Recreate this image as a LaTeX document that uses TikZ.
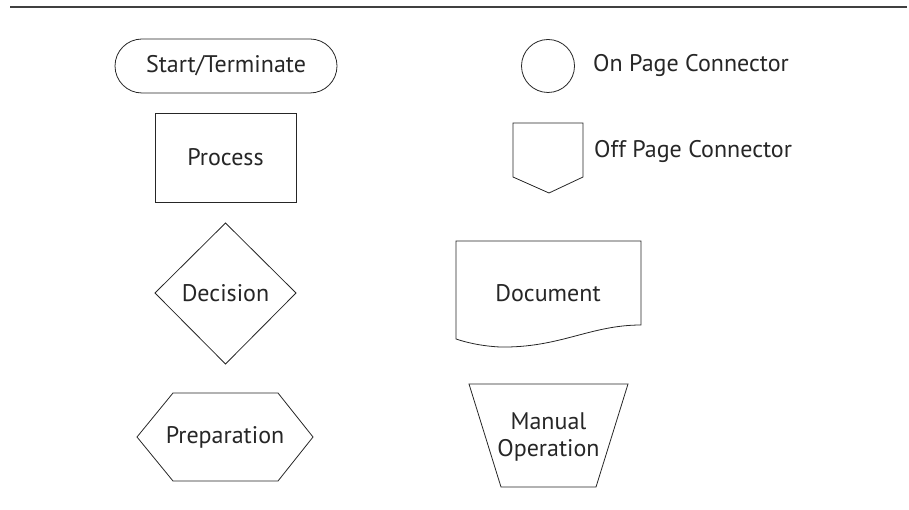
\documentclass[tikz,border=0pt]{standalone}
\usepackage{fontspec}
\setmainfont{PT Sans}

\tikzset{
  symbol/.style={draw=black!85, line width=0.8pt},
  label/.style={font=\fontsize{24}{27}\selectfont, text=black!85, inner sep=0pt},
}

\begin{document}
\begin{tikzpicture}[x=1pt, y=-1pt]
    \useasboundingbox (0,0) rectangle (909,510);
    \draw[black!75, line width=1.6pt] (10,7) -- (907,7);

    % left column
    \draw[symbol, rounded corners=27pt] (115,39) rectangle (337,93);
    \node[label] (start) at (226,66) {Start/Terminate};

    \draw[symbol] (155,113) rectangle (296,202);
    \node[label] (process) at (225.5,157.5) {Process};

    \draw[symbol] (225.5,223) -- (296,293) -- (225.5,364) -- (155,293) -- cycle;
    \node[label] (decision) at (225.5,293) {Decision};

    \draw[symbol] (137,437) -- (173,393) -- (278,393) -- (313,437) -- (278,481) -- (173,481) -- cycle;
    \node[label] (prep) at (225,437) {Preparation};

    % right column
    \draw[symbol] (548,66) circle (26.5);
    \node[label, anchor=west] (onpage) at (593,66) {On Page Connector};

    \draw[symbol] (513,123) -- (583,123) -- (583,177) -- (549,193) -- (513,177) -- cycle;
    \node[label, anchor=west] (offpage) at (594,152) {Off Page Connector};

    \draw[symbol] (456,241) -- (641,241) -- (641,325)
        .. controls (590,325) and (560,348) .. (500,347)
        .. controls (480,346) and (465,342) .. (456,339) -- cycle;
    \node[label] (doc) at (548,293) {Document};

    \draw[symbol] (469,384) -- (628,384) -- (596,487) -- (501,487) -- cycle;
    \node[label, align=center] (manual) at (548.5,437) {Manual\\Operation};
\end{tikzpicture}
\end{document}
